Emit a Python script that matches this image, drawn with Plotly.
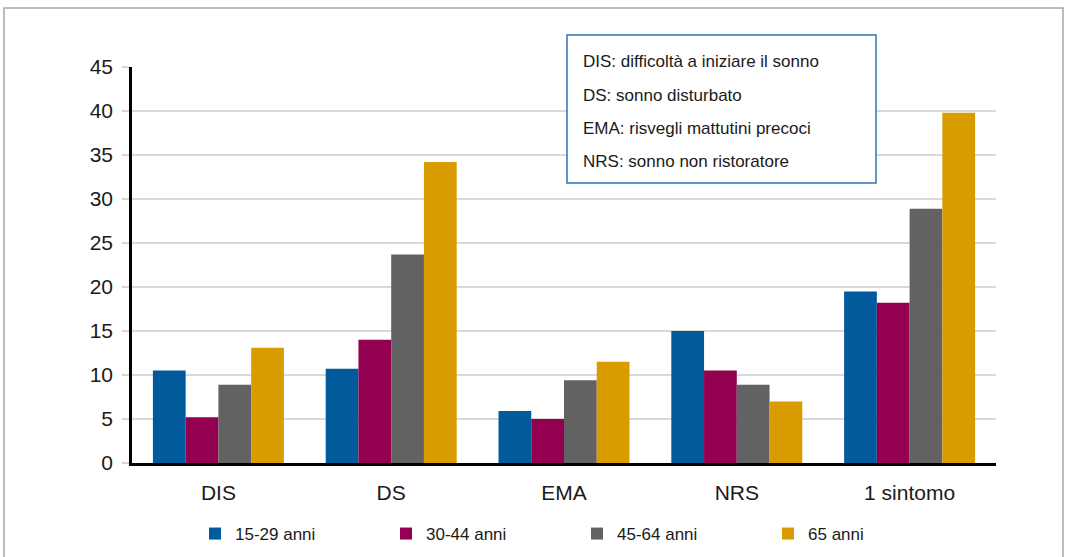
import plotly.graph_objects as go

categories = ["DIS", "DS", "EMA", "NRS", "1 sintomo"]
series_names = ["15-29 anni", "30-44 anni", "45-64 anni", "65 anni"]
v_15_29 = [10.5, 10.7, 5.9, 15.0, 19.5]
v_30_44 = [5.2, 14.0, 5.0, 10.5, 18.2]
v_45_64 = [8.9, 23.7, 9.4, 8.9, 28.9]
v_65 = [13.1, 34.2, 11.5, 7.0, 39.8]
colors = ["#005A9C", "#92004F", "#626262", "#D89B00"]
y_ticks = [0, 5, 10, 15, 20, 25, 30, 35, 40, 45]
notes = [
    "DIS: difficoltà a iniziare il sonno",
    "DS: sonno disturbato",
    "EMA: risvegli mattutini precoci",
    "NRS: sonno non ristoratore",
]

FONT = "Liberation Sans, Arial, Helvetica, sans-serif"

fig = go.Figure()
for name, vals, col in zip(series_names, [v_15_29, v_30_44, v_45_64, v_65], colors):
    fig.add_trace(go.Bar(x=categories, y=vals, name=name, marker=dict(color=col, line=dict(width=0))))

W, H = 1065, 557
L, R, T, B = 132, 69, 67, 94
pw, ph = W - L - R, H - T - B


def px_x(x):
    return (x - L) / pw


def px_y(y):
    return (H - B - y) / ph


shapes = [
    dict(type="rect", xref="paper", yref="paper",
         x0=px_x(4), x1=px_x(1063), y0=px_y(620), y1=px_y(8),
         line=dict(color="#a6a6a6", width=1.5), fillcolor="rgba(0,0,0,0)", layer="below"),
    dict(type="rect", xref="paper", yref="paper",
         x0=px_x(567), x1=px_x(876), y0=px_y(183), y1=px_y(35),
         line=dict(color="#2E75B6", width=1.5), fillcolor="white", layer="above"),
]

annotations = []
for txt, yy in zip(notes, [61, 95, 128.5, 161.5]):
    annotations.append(dict(xref="paper", yref="paper", x=px_x(581), y=px_y(yy),
                            xanchor="left", yanchor="middle", text=txt, showarrow=False,
                            font=dict(family=FONT, size=17, color="#1a1a1a")))

fig.update_layout(
    width=W, height=H,
    margin=dict(l=L, r=R, t=T, b=B, pad=0, autoexpand=False),
    paper_bgcolor="white", plot_bgcolor="white",
    barmode="group", bargap=0.242, bargroupgap=0,
    font=dict(family=FONT, color="#1a1a1a"),
    shapes=shapes, annotations=annotations,
    showlegend=True,
    legend=dict(orientation="h", xanchor="left", x=px_x(195), yanchor="middle", y=px_y(534),
                font=dict(family=FONT, size=17, color="#1a1a1a"),
                entrywidth=146, entrywidthmode="pixels", traceorder="normal",
                bgcolor="rgba(0,0,0,0)"),
)
fig.update_xaxes(showline=True, linecolor="black", linewidth=3, ticks="", automargin=False,
                 tickfont=dict(family=FONT, size=21, color="#1a1a1a"),
                 ticklabelstandoff=9, showgrid=False)
fig.update_yaxes(range=[0, 45], tickvals=y_ticks, showline=True, linecolor="black", linewidth=2.5,
                 showgrid=True, gridcolor="#d9d9d9", gridwidth=1.5, zeroline=False, automargin=False,
                 ticks="outside", ticklen=7, tickcolor="#d9d9d9", tickwidth=1.5,
                 tickfont=dict(family=FONT, size=21, color="#1a1a1a"), ticklabelstandoff=5)

fig.write_html("out.html", config={"displayModeBar": False},
               post_script="document.body.style.margin='0';")
